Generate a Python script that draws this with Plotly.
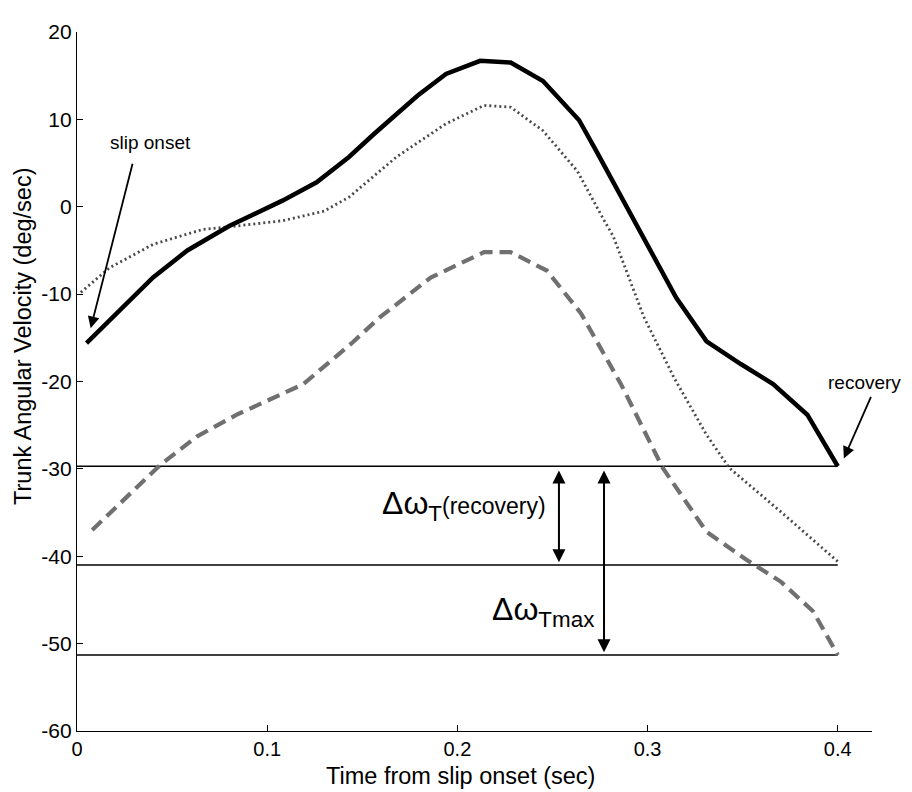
import plotly.graph_objects as go

# ---- data ----
solid_t = [0.005, 0.030, 0.040, 0.058, 0.080, 0.108, 0.126, 0.143, 0.156, 0.179, 0.194,
           0.212, 0.228, 0.245, 0.264, 0.273, 0.291, 0.315, 0.331, 0.349, 0.366, 0.384, 0.400]
solid_v = [-15.6, -10.3, -8.1, -5.0, -2.2, 0.7, 2.8, 5.7, 8.3, 12.7, 15.2,
           16.7, 16.5, 14.4, 9.9, 6.4, -0.8, -10.4, -15.4, -18.0, -20.3, -23.8, -29.7]

dotted_t = [0.002, 0.017, 0.040, 0.066, 0.084, 0.108, 0.130, 0.143, 0.168, 0.194, 0.214,
            0.228, 0.245, 0.263, 0.277, 0.282, 0.298, 0.314, 0.331, 0.343, 0.370, 0.385, 0.400]
dotted_v = [-9.8, -7.0, -4.3, -2.6, -2.2, -1.6, -0.5, 1.1, 5.7, 9.5, 11.6,
            11.4, 8.7, 4.1, -1.5, -3.4, -12.6, -19.6, -26.1, -29.9, -34.9, -37.8, -40.6]

dashed_t = [0.008, 0.044, 0.063, 0.084, 0.119, 0.144, 0.159, 0.186, 0.214, 0.228,
            0.247, 0.265, 0.286, 0.308, 0.331, 0.352, 0.370, 0.387, 0.400]
dashed_v = [-37.0, -29.5, -26.3, -23.8, -20.3, -15.7, -12.7, -8.1, -5.2, -5.2,
            -7.3, -12.2, -20.3, -29.9, -37.2, -40.4, -42.9, -46.3, -51.3]

ref_levels = [solid_v[-1], -41.0, dashed_v[-1]]
ref_span = [0.0, 0.4]

x_ticks = [0, 0.1, 0.2, 0.3, 0.4]
x_tick_labels = ["0", "0.1", "0.2", "0.3", "0.4"]
y_ticks = [20, 10, 0, -10, -20, -30, -40, -50, -60]
y_tick_labels = ["20", "10", "0", "-10", "-20", "-30", "-40", "-50", "-60"]

FONT = "Liberation Sans, Arial, sans-serif"

fig = go.Figure()

for lvl in ref_levels:
    fig.add_trace(go.Scatter(x=ref_span, y=[lvl, lvl], mode="lines",
                             line=dict(color="black", width=1.4),
                             showlegend=False, hoverinfo="skip"))

fig.add_trace(go.Scatter(x=dotted_t, y=dotted_v, mode="lines",
                         line=dict(color="#4a4a4a", width=2.8, dash="2px,3px"),
                         showlegend=False))
fig.add_trace(go.Scatter(x=dashed_t, y=dashed_v, mode="lines",
                         line=dict(color="#707070", width=4.2, dash="13px,7px"),
                         showlegend=False))
fig.add_trace(go.Scatter(x=solid_t, y=solid_v, mode="lines",
                         line=dict(color="black", width=4.5),
                         showlegend=False))

ann = []
# slip onset
ann.append(dict(x=0.0072, y=-13.9, ax=0.0294, ay=5.1, xref="x", yref="y", axref="x", ayref="y",
                showarrow=True, arrowhead=2, arrowsize=1.3, arrowwidth=1.8, arrowcolor="black", text=""))
ann.append(dict(x=0.0389, y=7.4, xref="x", yref="y", text="slip onset", showarrow=False,
                font=dict(family=FONT, size=19, color="black")))
# recovery
ann.append(dict(x=0.4032, y=-28.8, ax=0.4178, ay=-21.6, xref="x", yref="y", axref="x", ayref="y",
                showarrow=True, arrowhead=2, arrowsize=1.3, arrowwidth=1.8, arrowcolor="black", text=""))
ann.append(dict(x=0.4143, y=-20.1, xref="x", yref="y", text="recovery", showarrow=False,
                font=dict(family=FONT, size=19, color="black")))
# double arrows
for xa, ybot in [(0.2534, ref_levels[1]), (0.2771, ref_levels[2])]:
    ytop = ref_levels[0]
    ann.append(dict(x=xa, y=ybot + 0.3, ax=xa, ay=ytop - 0.3, xref="x", yref="y", axref="x", ayref="y",
                    showarrow=True, arrowhead=2, startarrowhead=2, arrowside="end+start",
                    arrowsize=1.3, startarrowsize=1.3, arrowwidth=2, arrowcolor="black", text=""))
ann.append(dict(x=0.2476, y=-34.2, xref="x", yref="y", xanchor="right", yanchor="middle", showarrow=False,
                text="Δω<sub>T</sub><span style='font-size:23px'>(recovery)</span>",
                font=dict(family=FONT, size=32, color="black")))
ann.append(dict(x=0.2729, y=-46.3, xref="x", yref="y", xanchor="right", yanchor="middle", showarrow=False,
                text="Δω<sub>Tmax</sub>",
                font=dict(family=FONT, size=32, color="black")))
# axis titles
ann.append(dict(x=-0.0679, y=-14.9, xref="paper", yref="y", textangle=-90, showarrow=False,
                xanchor="center", yanchor="middle", text="Trunk Angular Velocity (deg/sec)",
                font=dict(family=FONT, size=23.5, color="black")))
ann.append(dict(x=0.483, y=-0.064, xref="paper", yref="paper", showarrow=False,
                xanchor="center", yanchor="middle", text="Time from slip onset (sec)",
                font=dict(family=FONT, size=23.5, color="black")))

# the page body has an 8px default margin, compensated here
fig.update_layout(
    width=904, height=784,
    margin=dict(l=69, r=40, t=24, b=61),
    paper_bgcolor="white", plot_bgcolor="white",
    font=dict(family=FONT, color="black"),
    annotations=ann,
    showlegend=False,
)
fig.update_xaxes(range=[0, 0.418], tickvals=x_ticks, ticktext=x_tick_labels, automargin=False,
                 ticks="inside", ticklen=6, tickcolor="black", showline=True, linecolor="black",
                 linewidth=1.4, showgrid=False, zeroline=False, mirror=False,
                 tickfont=dict(family=FONT, size=20))
fig.update_yaxes(range=[-60, 20], tickvals=y_ticks, ticktext=y_tick_labels, automargin=False,
                 ticks="inside", ticklen=6, tickcolor="black", showline=True, linecolor="black",
                 linewidth=1.4, showgrid=False, zeroline=False, mirror=False,
                 tickfont=dict(family=FONT, size=21))

fig.write_html("out.html")
